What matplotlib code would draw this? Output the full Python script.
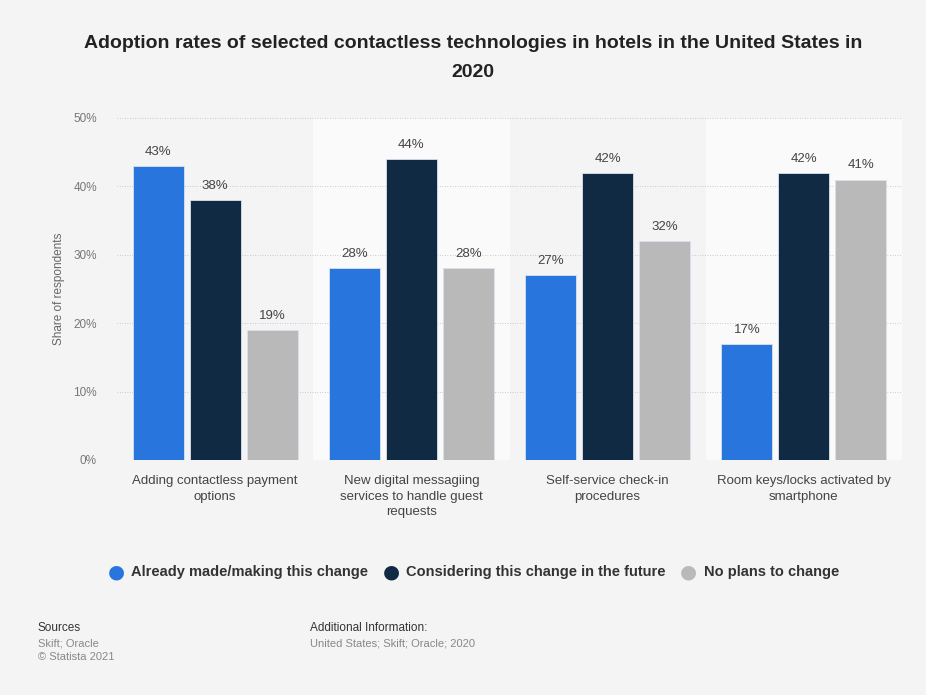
import matplotlib.pyplot as plt
import numpy as np

categories = ["Adding contactless payment\noptions",
              "New digital messagiing\nservices to handle guest\nrequests",
              "Self-service check-in\nprocedures",
              "Room keys/locks activated by\nsmartphone"]
series_names = ["Already made/making this change",
                "Considering this change in the future",
                "No plans to change"]
already = [43, 28, 27, 17]
considering = [38, 44, 42, 42]
no_plans = [19, 28, 32, 41]
yticks = [0, 10, 20, 30, 40, 50]
colors = ["#2876dd", "#0f2a42", "#b9b9b9"]

plt.rcParams['font.family'] = ['Liberation Sans', 'DejaVu Sans']
W, H = 926, 695
fig = plt.figure(figsize=(W/100, H/100), dpi=100)
fig.patch.set_facecolor("#f4f4f4")
ax = fig.add_axes([117/W, 1-460/H, (902-117)/W, (460-118)/H])
ax.set_facecolor("#f4f4f4")

x = np.arange(len(categories))
bw = 0.26
step = 0.29
for i, (vals, col) in enumerate(zip([already, considering, no_plans], colors)):
    pos = x + (i-1)*step
    ax.bar(pos, vals, bw, color=col, edgecolor="#d8e2ee", linewidth=0.6, zorder=3,
           label=series_names[i])
    for p, v in zip(pos, vals):
        ax.text(p, v + 1.2, f"{v}%", ha="center", va="bottom", fontsize=9.5, color="#444444", zorder=4)

for i in range(len(categories)):
    if i % 2 == 1:
        ax.axvspan(i-0.5, i+0.5, color="#fafafa", zorder=0, lw=0)

ax.set_xlim(-0.5, len(categories)-0.5)
ax.set_ylim(0, 50)
ax.set_yticks(yticks)
ax.set_yticklabels([f"{t}%" for t in yticks], fontsize=8.5, color="#777777")
ax.yaxis.grid(True, linestyle=(0, (1, 2)), color="#bbbbbb", linewidth=0.6, zorder=1)
ax.set_xticks(x)
ax.set_xticklabels(categories, fontsize=9.5, color="#444444", linespacing=1.4)
ax.tick_params(axis="both", length=0)
ax.tick_params(axis="y", pad=14.5)
ax.tick_params(axis="x", pad=11)
for s in ax.spines.values():
    s.set_visible(False)
ax.set_ylabel("Share of respondents", fontsize=8.5, color="#666666", labelpad=6)

fig.text(473/W, 1-58/H, "Adoption rates of selected contactless technologies in hotels in the United States in\n2020",
         ha="center", va="center", fontsize=14, fontweight="bold", color="#222222", linespacing=1.95)

# legend: lay out items sequentially, centred
renderer = fig.canvas.get_renderer()
ly = 1-572/H
marker_gap = 22
text_gap = 16
texts = []
for name in series_names:
    t = fig.text(0, ly, name, ha="left", va="center", fontsize=10.5,
                 fontweight="bold", color="#333333")
    texts.append(t)
widths = [t.get_window_extent(renderer).width for t in texts]
total = sum(widths) + len(widths)*marker_gap + (len(widths)-1)*text_gap
cur = 474 - total/2
for t, w, col in zip(texts, widths, colors):
    fig.text((cur + 7)/W, ly, "\u25cf", ha="center", va="center", fontsize=14, color=col,
             family=['DejaVu Sans'])
    t.set_x((cur + marker_gap)/W)
    cur += marker_gap + w + text_gap

fig.text(38/W, 1-628/H, "Sources", fontsize=8.5, color="#333333", va="center")
fig.text(38/W, 1-643/H, "Skift; Oracle", fontsize=8, color="#888888", va="center")
fig.text(38/W, 1-657/H, "\u00a9 Statista 2021", fontsize=8, color="#888888", va="center")
fig.text(310/W, 1-628/H, "Additional Information:", fontsize=8.5, color="#333333", va="center")
fig.text(310/W, 1-643/H, "United States; Skift; Oracle; 2020", fontsize=8, color="#888888", va="center")

fig.savefig("out.png", dpi=100, facecolor=fig.get_facecolor())
